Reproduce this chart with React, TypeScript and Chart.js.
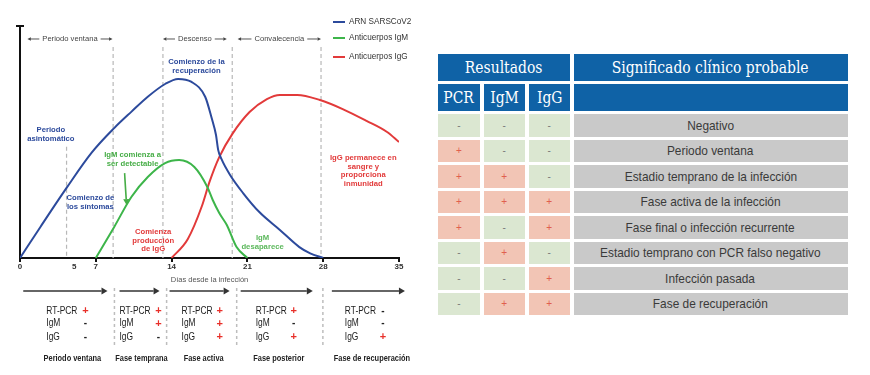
import React, { useEffect, useRef } from "react";
import { Chart, registerables } from "chart.js";

Chart.register(...registerables);

// ---------------- Data ----------------
const dayTicks = [0, 5, 7, 14, 21, 28, 35];

const arnDays = [0, 1.9, 4.3, 6.6, 8.7, 10.3, 11.8, 13.4, 14.6, 15.8, 17.1, 17.7, 18.1, 18.3, 18.6, 19.4, 20.6, 22.1, 24.0, 25.8, 26.8, 28];
const arnLevels = [0, 13.5, 30.2, 45.3, 56.0, 63.1, 69.5, 75.0, 77.2, 76.0, 69.5, 60.3, 53.0, 46.6, 42.7, 35.8, 28.0, 19.8, 12.1, 4.7, 2.0, 0];

const igmDays = [7, 8.7, 10.3, 11.8, 13.4, 14.7, 16.1, 17.3, 17.8, 18.4, 19.1, 20.0, 21];
const igmLevels = [0, 13.4, 26.4, 34.9, 40.9, 42.2, 39.2, 30.6, 25.0, 19.4, 14.2, 4.7, 0];

const iggDays = [14, 15.5, 16.8, 17.5, 18.4, 19.6, 21.2, 22.8, 24.0, 25.6, 27.7, 29.8, 32.0, 33.9, 35];
const iggLevels = [0, 8.2, 22.4, 32.8, 43.5, 53.4, 62.9, 68.5, 70.3, 70.3, 68.1, 64.2, 59.1, 54.3, 50.0];

const seriesLabels = ["ARN SARSCoV2", "Anticuerpos IgM", "Anticuerpos IgG"];

// dashed dividers (days)
const dividerDays = [8.6, 13.2, 19.6, 27.8];
const dividerTopLevel = 91;
const symptomDay = 4.3;
const symptomTopLevel = 48;

// top period headers
const periodNames = ["Periodo ventana", "Descenso", "Convalecencia"];
const periodStart = [0.68, 13.2, 20.1];
const periodEnd = [8.55, 19.1, 27.8];
const periodLevel = 94.4;

// annotations
const noteTexts = [
  ["Comienzo de la", "recuperación"],
  ["Periodo", "asintomático"],
  ["Comienzo de", "los síntomas"],
  ["IgM comienza a", "ser detectable"],
  ["Comienza", "producción", "de IgG"],
  ["IgM", "desaparece"],
  ["IgG permanece en", "sangre y", "proporciona", "inmunidad"],
];
const noteDays = [16.3, 2.85, 6.5, 10.4, 12.3, 22.4, 31.7];
const noteLevels = [84.5, 55.2, 25.9, 44.4, 11.2, 8.6, 43.1];

// bottom phase strip
const phaseNames = ["Periodo ventana", "Fase temprana", "Fase activa", "Fase posterior", "Fase de recuperación"];
const phaseArrowStart = [0.3, 9.19, 13.81, 20.38, 28.8];
const phaseArrowEnd = [8.08, 12.89, 19.36, 27.04, 35.55];
const phaseSeparators = [8.72, 13.54, 20.01, 27.97];
const phaseLabelDay = [2.43, 9.19, 14.92, 21.77, 30.0];
const phaseSignDay = [6.04, 12.79, 18.44, 25.28, 33.52];
const phaseNameDay = [4.84, 11.22, 16.96, 23.9, 32.5];
const testNames = ["RT-PCR", "IgM", "IgG"];
const phasePcr = ["+", "+", "+", "+", "-"];
const phaseIgm = ["-", "+", "+", "-", "-"];
const phaseIgg = ["-", "-", "+", "+", "+"];

// right table
const tableHeaders = ["PCR", "IgM", "IgG"];
const tablePcr = ["-", "+", "+", "+", "+", "-", "-", "-"];
const tableIgm = ["-", "-", "+", "+", "-", "+", "-", "+"];
const tableIgg = ["-", "-", "-", "+", "+", "-", "+", "+"];
const tableMeaning = [
  "Negativo",
  "Periodo ventana",
  "Estadio temprano de la infección",
  "Fase activa de la infección",
  "Fase final o infección recurrente",
  "Estadio temprano con PCR falso negativo",
  "Infección pasada",
  "Fase de recuperación",
];

// ---------------- Styles ----------------
const BLUE = "#2c4a9c";
const GREEN = "#3db54a";
const RED = "#e23a3a";
const SANS = '"Liberation Sans", Arial, sans-serif';
const noteColors = [BLUE, BLUE, BLUE, "#46ad46", RED, "#5cb85c", RED];

function drawArrow(ctx: CanvasRenderingContext2D, x1: number, y1: number, x2: number, y2: number, head: number, half: number) {
  const ang = Math.atan2(y2 - y1, x2 - x1);
  const bx = x2 - Math.cos(ang) * head;
  const by = y2 - Math.sin(ang) * head;
  ctx.beginPath();
  ctx.moveTo(x1, y1);
  ctx.lineTo(bx, by);
  ctx.stroke();
  ctx.beginPath();
  ctx.moveTo(x2, y2);
  ctx.lineTo(bx + Math.sin(ang) * half, by - Math.cos(ang) * half);
  ctx.lineTo(bx - Math.sin(ang) * half, by + Math.cos(ang) * half);
  ctx.closePath();
  ctx.fill();
}

function narrowText(ctx: CanvasRenderingContext2D, t: string, x: number, y: number, sx: number) {
  ctx.save();
  ctx.translate(x, y);
  ctx.scale(sx, 1);
  ctx.fillText(t, 0, 0);
  ctx.restore();
}

const overlayPlugin = {
  id: "overlay",
  beforeDatasetsDraw(chart: any) {
    const { ctx, chartArea, scales } = chart;
    const x = scales.x, y = scales.y;
    ctx.save();
    ctx.strokeStyle = "#b8b8b8";
    ctx.lineWidth = 1.2;
    ctx.setLineDash([4, 3]);
    dividerDays.forEach((d) => {
      const px = x.getPixelForValue(d);
      ctx.beginPath();
      ctx.moveTo(px, y.getPixelForValue(dividerTopLevel));
      ctx.lineTo(px, chartArea.bottom);
      ctx.stroke();
    });
    const sp = x.getPixelForValue(symptomDay);
    ctx.beginPath();
    ctx.moveTo(sp, y.getPixelForValue(symptomTopLevel));
    ctx.lineTo(sp, chartArea.bottom);
    ctx.stroke();
    ctx.restore();
  },
  afterDraw(chart: any) {
    const { ctx, chartArea, scales } = chart;
    const x = scales.x, y = scales.y;
    ctx.save();
    // y axis cap
    ctx.strokeStyle = "#111";
    ctx.lineWidth = 2;
    ctx.beginPath();
    ctx.moveTo(chartArea.left - 4, chartArea.top);
    ctx.lineTo(chartArea.left + 4, chartArea.top);
    ctx.stroke();

    // period headers
    ctx.font = `7.6px ${SANS}`;
    ctx.fillStyle = "#444";
    ctx.strokeStyle = "#444";
    ctx.lineWidth = 0.9;
    ctx.textAlign = "center";
    ctx.textBaseline = "middle";
    const py = y.getPixelForValue(periodLevel);
    periodNames.forEach((name, i) => {
      const x1 = x.getPixelForValue(periodStart[i]);
      const x2 = x.getPixelForValue(periodEnd[i]);
      const cx = (x1 + x2) / 2;
      const w = ctx.measureText(name).width;
      ctx.fillText(name, cx, py);
      drawArrow(ctx, cx - w / 2 - 3, py, x1, py, 3.5, 1.8);
      drawArrow(ctx, cx + w / 2 + 3, py, x2, py, 3.5, 1.8);
    });

    // legend
    const legendY = [22, 38, 57];
    chart.data.datasets.forEach((ds: any, i: number) => {
      ctx.strokeStyle = ds.borderColor;
      ctx.lineWidth = 2;
      ctx.beginPath();
      ctx.moveTo(333, legendY[i]);
      ctx.lineTo(345, legendY[i]);
      ctx.stroke();
      ctx.fillStyle = "#333";
      ctx.font = `8.2px ${SANS}`;
      ctx.textAlign = "left";
      ctx.fillText(ds.label, 349, legendY[i]);
    });

    // notes
    ctx.textAlign = "center";
    ctx.font = `bold 7.7px ${SANS}`;
    noteTexts.forEach((lines, i) => {
      ctx.fillStyle = noteColors[i];
      const cx = x.getPixelForValue(noteDays[i]);
      const cy = y.getPixelForValue(noteLevels[i]);
      lines.forEach((t, k) => ctx.fillText(t, cx, cy + k * 8.6));
    });

    // green arrow
    ctx.strokeStyle = "#46ad46";
    ctx.fillStyle = "#46ad46";
    ctx.lineWidth = 1.6;
    drawArrow(ctx, x.getPixelForValue(9.66), y.getPixelForValue(36.6), x.getPixelForValue(9.84), y.getPixelForValue(22.8), 6, 3);

    // bottom phase strip
    ctx.strokeStyle = "#333";
    ctx.fillStyle = "#333";
    ctx.lineWidth = 1.6;
    phaseArrowStart.forEach((d, i) => {
      drawArrow(ctx, x.getPixelForValue(d), 291, x.getPixelForValue(phaseArrowEnd[i]), 291, 6, 3.5);
    });
    ctx.strokeStyle = "#bdbdbd";
    ctx.lineWidth = 1.5;
    ctx.setLineDash([3, 3]);
    phaseSeparators.forEach((d) => {
      const px = x.getPixelForValue(d);
      ctx.beginPath();
      ctx.moveTo(px, 288);
      ctx.lineTo(px, 348);
      ctx.stroke();
    });
    ctx.setLineDash([]);
    const rowY = [311, 323.5, 337];
    const signs = [phasePcr, phaseIgm, phaseIgg];
    phaseNames.forEach((name, i) => {
      ctx.font = `10.5px ${SANS}`;
      ctx.textAlign = "left";
      ctx.fillStyle = "#222";
      testNames.forEach((t, k) => narrowText(ctx, t, x.getPixelForValue(phaseLabelDay[i]), rowY[k], 0.8));
      ctx.textAlign = "center";
      testNames.forEach((t, k) => {
        const s = signs[k][i];
        ctx.fillStyle = s === "+" ? "#e8302a" : "#222";
        ctx.font = s === "+" ? `bold 11px ${SANS}` : `bold 10px ${SANS}`;
        ctx.fillText(s, x.getPixelForValue(phaseSignDay[i]), rowY[k]);
      });
      ctx.font = `bold 9.5px ${SANS}`;
      ctx.fillStyle = "#222";
      narrowText(ctx, name, x.getPixelForValue(phaseNameDay[i]), 358, 0.78);
    });
    ctx.restore();
  },
};

const cellBase: React.CSSProperties = {
  display: "flex",
  alignItems: "center",
  justifyContent: "center",
  boxSizing: "border-box",
  whiteSpace: "nowrap",
  overflow: "visible",
};
const headStyle: React.CSSProperties = {
  ...cellBase,
  background: "#0f62a6",
  color: "#fff",
  fontFamily: '"DejaVu Serif", serif',
  fontSize: 16,
};
const PINK = "#f2c5b5";
const LGREEN = "#dbe7d1";
const GREY = "#c9c9c9";

function Squeeze({ text, sx }: { text: string; sx: number }) {
  return <span style={{ display: "inline-block", transform: `scaleX(${sx})`, transformOrigin: "center" }}>{text}</span>;
}

export default function App() {
  const ref = useRef<HTMLCanvasElement>(null);
  useEffect(() => {
    const toPts = (xs: number[], ys: number[]) => xs.map((d, i) => ({ x: d, y: ys[i] }));
    const chart = new Chart(ref.current as HTMLCanvasElement, {
      type: "line",
      data: {
        datasets: [
          { label: seriesLabels[0], data: toPts(arnDays, arnLevels), borderColor: BLUE, backgroundColor: BLUE },
          { label: seriesLabels[1], data: toPts(igmDays, igmLevels), borderColor: GREEN, backgroundColor: GREEN },
          { label: seriesLabels[2], data: toPts(iggDays, iggLevels), borderColor: RED, backgroundColor: RED },
        ] as any,
      },
      options: {
        animation: false,
        responsive: false,
        maintainAspectRatio: false,
        layout: { padding: { left: 20, right: 21, top: 26, bottom: 87 } },
        elements: {
          point: { radius: 0 },
          line: { borderWidth: 2, cubicInterpolationMode: "monotone", fill: false },
        },
        plugins: { legend: { display: false }, tooltip: { enabled: false } },
        scales: {
          x: {
            type: "linear",
            min: 0,
            max: 35,
            afterBuildTicks: (s: any) => {
              s.ticks = dayTicks.map((v) => ({ value: v }));
            },
            afterFit: (s: any) => {
              s.height = 30;
            },
            ticks: {
              autoSkip: false,
              maxRotation: 0,
              padding: 0,
              color: "#333",
              font: { size: 8, weight: "bold", family: SANS },
            },
            grid: {
              drawOnChartArea: false,
              drawTicks: true,
              tickLength: 4,
              lineWidth: 2,
              color: (c: any) => (c.tick && c.tick.value === 5 ? "rgba(0,0,0,0)" : "#111"),
            },
            border: { display: true, color: "#111", width: 2 },
            title: {
              display: true,
              text: "Días desde la infección",
              color: "#555",
              font: { size: 7.5, family: SANS },
              padding: { top: 0, bottom: 3.5 },
            },
          },
          y: {
            min: 0,
            max: 100,
            ticks: { display: false },
            grid: { display: false, drawTicks: false },
            border: { display: true, color: "#111", width: 2 },
            afterFit: (s: any) => {
              s.width = 0;
            },
          },
        } as any,
      },
      plugins: [overlayPlugin],
    });
    return () => chart.destroy();
  }, []);

  const rowCell = (sign: string): React.CSSProperties => ({
    ...cellBase,
    background: sign === "+" ? PINK : LGREEN,
    color: sign === "+" ? "#e0604e" : "#7a7a7a",
    fontFamily: SANS,
    fontSize: 10,
  });

  return (
    <div style={{ position: "absolute", left: 0, top: 0, width: 870, height: 375, background: "#fff", overflow: "hidden" }}>
      <canvas ref={ref} width={420} height={375} style={{ position: "absolute", left: 0, top: 0, width: 420, height: 375 }} />
      <div
        style={{
          position: "absolute",
          left: 438,
          top: 54,
          display: "grid",
          gridTemplateColumns: "42px 41.5px 41.5px 274px",
          gridTemplateRows: "27px 27px repeat(8, 22.5px)",
          columnGap: 3.5,
          rowGap: 3,
        }}
      >
        <div style={{ ...headStyle, gridColumn: "1 / span 3" }}><Squeeze text="Resultados" sx={0.87} /></div>
        <div style={headStyle}><Squeeze text="Significado clínico probable" sx={0.87} /></div>
        {tableHeaders.map((h) => (
          <div key={h} style={headStyle}><Squeeze text={h} sx={0.87} /></div>
        ))}
        <div style={headStyle}></div>
        {tableMeaning.map((m, i) => (
          <React.Fragment key={m}>
            <div style={rowCell(tablePcr[i])}>{tablePcr[i]}</div>
            <div style={rowCell(tableIgm[i])}>{tableIgm[i]}</div>
            <div style={rowCell(tableIgg[i])}>{tableIgg[i]}</div>
            <div style={{ ...cellBase, background: GREY, color: "#3a3a3a", fontFamily: SANS, fontSize: 13.5 }}>
              <Squeeze text={m} sx={0.88} />
            </div>
          </React.Fragment>
        ))}
      </div>
    </div>
  );
}
